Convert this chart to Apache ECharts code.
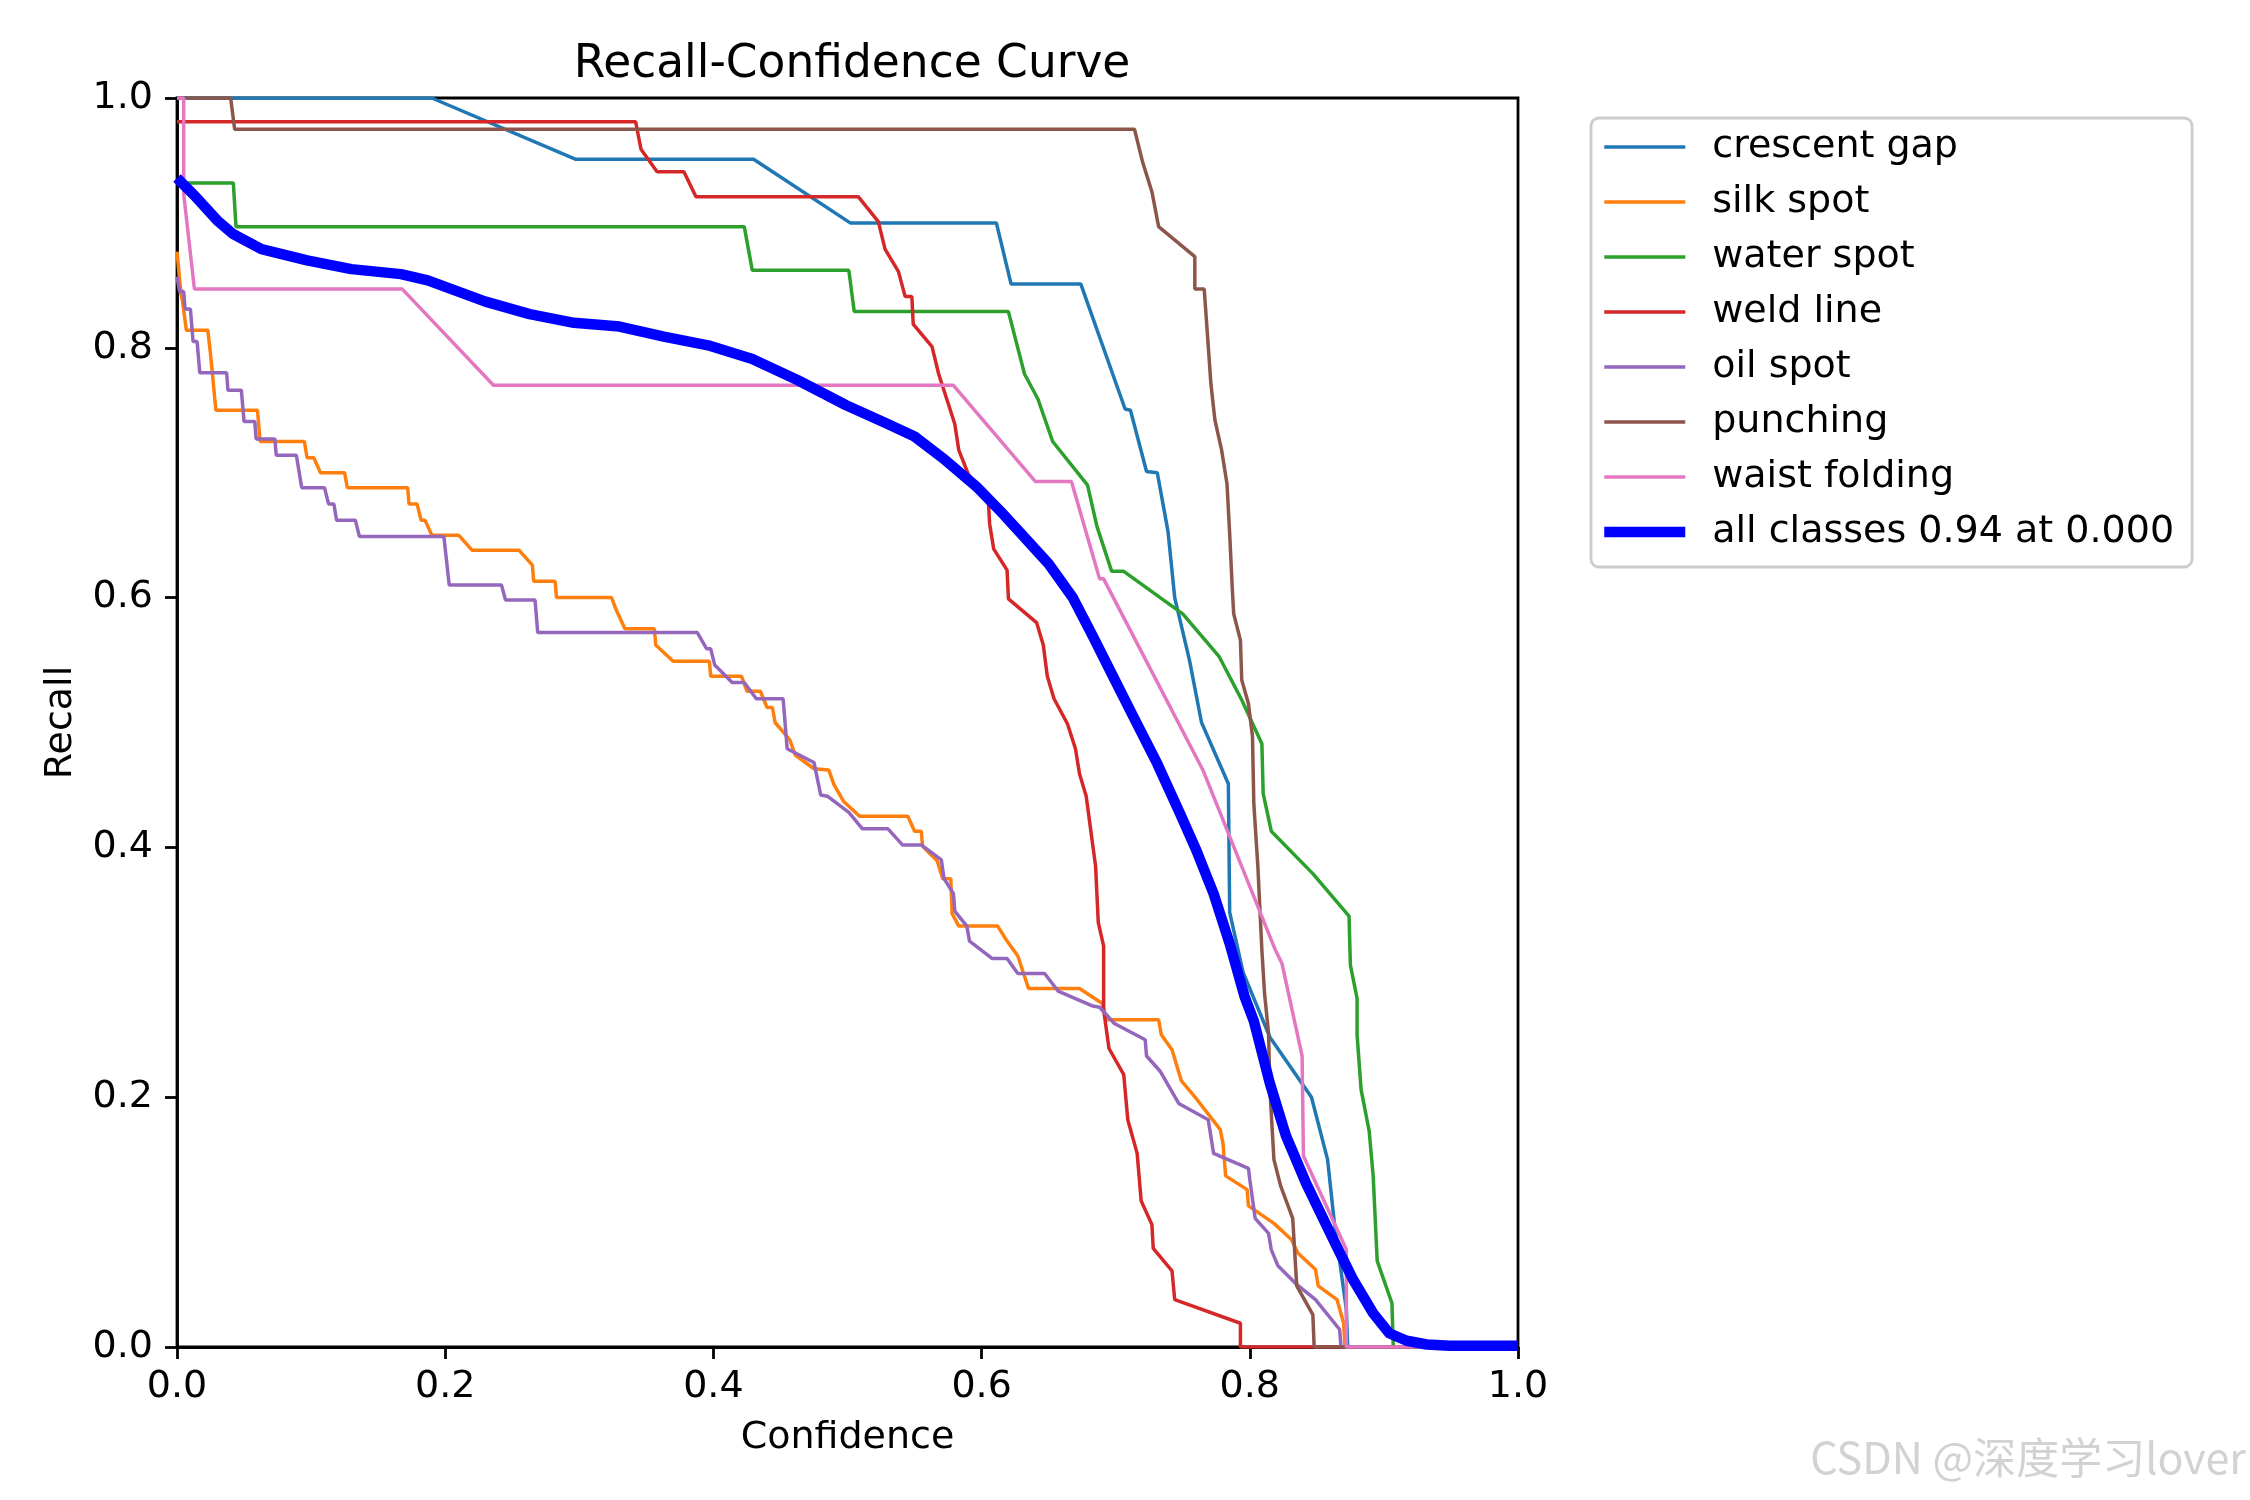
<!DOCTYPE html>
<html>
<head>
<meta charset="utf-8">
<script src="https://cdn.jsdelivr.net/npm/echarts@6/dist/echarts.min.js"></script>
<style>
  html, body { margin: 0; padding: 0; background: #fff; }
  #chart { width: 2250px; height: 1500px; }
</style>
</head>
<body>
<div id="chart"></div>
<script>
// class names and curve colours (matplotlib tab10)
var classNames = ['crescent gap', 'silk spot', 'water spot', 'weld line', 'oil spot', 'punching', 'waist folding'];
var classColors = ['#1f77b4', '#ff7f0e', '#2ca02c', '#d62728', '#9467bd', '#8c564b', '#e377c2'];
var allName = 'all classes 0.94 at 0.000';

// [confidence, recall]
var crescentGap = [[0,1.0],[0.190,1.0],[0.297,0.951],[0.430,0.951],[0.502,0.900],[0.611,0.900],[0.622,0.851],[0.674,0.851],[0.707,0.751],[0.711,0.750],[0.723,0.701],[0.731,0.700],[0.739,0.653],[0.744,0.600],[0.755,0.550],[0.764,0.500],[0.784,0.451],[0.785,0.348],[0.795,0.300],[0.815,0.248],[0.846,0.200],[0.858,0.150],[0.863,0.100],[0.872,0.030],[0.873,0],[1.0,0]];

var silkSpot = [[0,0.877],[0.003,0.843],[0.004,0.838],[0.007,0.814],[0.023,0.814],[0.025,0.795],[0.029,0.750],[0.060,0.750],[0.062,0.725],[0.095,0.725],[0.097,0.712],[0.102,0.712],[0.107,0.700],[0.125,0.700],[0.127,0.688],[0.172,0.688],[0.173,0.675],[0.179,0.675],[0.182,0.662],[0.185,0.662],[0.190,0.650],[0.210,0.650],[0.220,0.638],[0.255,0.638],[0.265,0.626],[0.266,0.613],[0.282,0.613],[0.283,0.600],[0.324,0.600],[0.328,0.589],[0.334,0.575],[0.356,0.575],[0.357,0.562],[0.370,0.549],[0.397,0.549],[0.398,0.537],[0.421,0.537],[0.425,0.525],[0.435,0.525],[0.440,0.512],[0.444,0.512],[0.446,0.500],[0.457,0.486],[0.461,0.474],[0.475,0.463],[0.486,0.462],[0.490,0.450],[0.497,0.437],[0.509,0.425],[0.545,0.425],[0.550,0.413],[0.555,0.413],[0.556,0.401],[0.567,0.389],[0.571,0.375],[0.577,0.375],[0.578,0.347],[0.583,0.337],[0.612,0.337],[0.619,0.325],[0.627,0.313],[0.635,0.287],[0.673,0.287],[0.690,0.275],[0.693,0.262],[0.732,0.262],[0.734,0.250],[0.742,0.238],[0.749,0.213],[0.760,0.199],[0.778,0.174],[0.780,0.163],[0.782,0.137],[0.798,0.126],[0.799,0.113],[0.818,0.099],[0.831,0.086],[0.836,0.075],[0.849,0.062],[0.851,0.049],[0.865,0.038],[0.870,0.019],[0.871,0],[1.0,0]];

var waterSpot = [[0,0.932],[0.042,0.932],[0.044,0.897],[0.423,0.897],[0.429,0.862],[0.501,0.862],[0.505,0.829],[0.620,0.829],[0.632,0.779],[0.642,0.759],[0.653,0.725],[0.679,0.690],[0.686,0.657],[0.697,0.621],[0.706,0.621],[0.750,0.587],[0.777,0.553],[0.794,0.518],[0.809,0.483],[0.810,0.443],[0.816,0.413],[0.847,0.379],[0.874,0.345],[0.875,0.306],[0.880,0.279],[0.880,0.250],[0.883,0.206],[0.889,0.173],[0.892,0.137],[0.895,0.069],[0.906,0.035],[0.907,0],[1.0,0]];

var weldLine = [[0,0.981],[0.342,0.981],[0.346,0.959],[0.358,0.941],[0.378,0.941],[0.387,0.921],[0.508,0.921],[0.523,0.901],[0.528,0.879],[0.538,0.861],[0.543,0.841],[0.548,0.841],[0.549,0.819],[0.563,0.801],[0.568,0.779],[0.580,0.739],[0.583,0.718],[0.590,0.699],[0.605,0.678],[0.606,0.659],[0.609,0.639],[0.619,0.622],[0.620,0.599],[0.641,0.580],[0.646,0.562],[0.649,0.537],[0.654,0.519],[0.664,0.499],[0.670,0.479],[0.673,0.459],[0.678,0.441],[0.681,0.417],[0.685,0.385],[0.687,0.340],[0.691,0.321],[0.691,0.270],[0.695,0.239],[0.706,0.218],[0.709,0.182],[0.716,0.155],[0.719,0.117],[0.727,0.098],[0.728,0.079],[0.742,0.061],[0.744,0.038],[0.793,0.019],[0.793,0],[1.0,0]];

var oilSpot = [[0,0.857],[0.002,0.845],[0.005,0.845],[0.006,0.831],[0.010,0.831],[0.012,0.805],[0.015,0.805],[0.017,0.780],[0.037,0.780],[0.038,0.766],[0.048,0.766],[0.050,0.741],[0.058,0.741],[0.059,0.727],[0.073,0.727],[0.074,0.714],[0.089,0.714],[0.093,0.688],[0.110,0.688],[0.113,0.675],[0.117,0.675],[0.119,0.662],[0.133,0.662],[0.136,0.649],[0.199,0.649],[0.203,0.610],[0.242,0.610],[0.245,0.598],[0.267,0.598],[0.269,0.572],[0.388,0.572],[0.395,0.559],[0.398,0.559],[0.401,0.546],[0.414,0.532],[0.423,0.532],[0.432,0.519],[0.452,0.519],[0.455,0.479],[0.475,0.468],[0.480,0.442],[0.485,0.441],[0.501,0.428],[0.511,0.415],[0.530,0.415],[0.541,0.402],[0.555,0.402],[0.570,0.390],[0.572,0.375],[0.579,0.363],[0.580,0.349],[0.589,0.337],[0.591,0.325],[0.608,0.311],[0.619,0.311],[0.627,0.299],[0.647,0.299],[0.657,0.285],[0.683,0.273],[0.688,0.272],[0.699,0.259],[0.722,0.246],[0.723,0.233],[0.733,0.221],[0.747,0.195],[0.769,0.182],[0.773,0.155],[0.799,0.143],[0.800,0.134],[0.804,0.103],[0.814,0.091],[0.816,0.078],[0.821,0.065],[0.834,0.051],[0.849,0.038],[0.867,0.014],[0.868,0],[1.0,0]];

var punching = [[0,1.0],[0.040,1.0],[0.043,0.975],[0.714,0.975],[0.720,0.949],[0.727,0.925],[0.732,0.897],[0.759,0.873],[0.759,0.847],[0.766,0.847],[0.768,0.817],[0.771,0.771],[0.774,0.742],[0.779,0.718],[0.783,0.691],[0.785,0.651],[0.787,0.606],[0.788,0.587],[0.793,0.566],[0.794,0.534],[0.799,0.515],[0.802,0.489],[0.803,0.435],[0.806,0.385],[0.809,0.318],[0.811,0.283],[0.814,0.251],[0.815,0.206],[0.818,0.150],[0.823,0.129],[0.832,0.103],[0.835,0.049],[0.847,0.026],[0.848,0],[1.0,0]];

var waistFolding = [[0,1.0],[0.005,1.0],[0.005,0.923],[0.013,0.847],[0.168,0.847],[0.236,0.770],[0.579,0.770],[0.640,0.693],[0.667,0.693],[0.688,0.615],[0.691,0.615],[0.765,0.462],[0.783,0.414],[0.819,0.318],[0.824,0.307],[0.839,0.233],[0.840,0.153],[0.872,0.078],[0.872,0],[1.0,0]];

var allClasses = [[0,0.936],[0.013,0.922],[0.030,0.902],[0.042,0.891],[0.063,0.879],[0.097,0.870],[0.130,0.863],[0.167,0.859],[0.187,0.854],[0.230,0.837],[0.263,0.827],[0.296,0.820],[0.330,0.817],[0.363,0.809],[0.396,0.802],[0.429,0.791],[0.463,0.774],[0.499,0.754],[0.530,0.739],[0.550,0.729],[0.573,0.710],[0.596,0.689],[0.616,0.667],[0.633,0.647],[0.650,0.627],[0.668,0.600],[0.683,0.569],[0.698,0.537],[0.713,0.505],[0.731,0.467],[0.748,0.427],[0.760,0.398],[0.773,0.363],[0.785,0.323],[0.796,0.281],[0.803,0.261],[0.815,0.211],[0.827,0.169],[0.842,0.131],[0.860,0.091],[0.877,0.054],[0.892,0.027],[0.904,0.011],[0.917,0.005],[0.932,0.002],[0.949,0.001],[1.0,0.001]];

var classData = [crescentGap, silkSpot, waterSpot, weldLine, oilSpot, punching, waistFolding];

var FONT = 'DejaVu Sans';
var THIN = 3.5, THICK = 10.5;
var chart = echarts.init(document.getElementById('chart'));

// one thin line per class, thick blue line for all classes on top
var series = classNames.map(function (name, i) {
  return {
    name: name,
    type: 'line',
    data: classData[i],
    symbol: 'none',
    clip: true,
    lineStyle: { color: classColors[i], width: THIN },
    itemStyle: { color: classColors[i] }
  };
});
series.push({
  name: allName,
  type: 'line',
  data: allClasses,
  symbol: 'none',
  clip: true,
  lineStyle: { color: '#0000ff', width: THICK, join: 'round', cap: 'butt' },
  itemStyle: { color: '#0000ff' }
});

// legend entries need their own line widths
var legendData = classNames.map(function (name, i) {
  return { name: name, lineStyle: { color: classColors[i], width: THIN } };
});
legendData.push({ name: allName, lineStyle: { color: '#0000ff', width: THICK } });

var option = {
  animation: false,
  backgroundColor: '#ffffff',
  title: {
    text: 'Recall-Confidence Curve',
    left: 847,
    textAlign: 'center',
    top: 37,
    textStyle: { fontFamily: FONT, fontSize: 45.5, fontWeight: 'normal', color: '#000' }
  },
  grid: {
    left: 177, right: 732, top: 98, bottom: 153,
    show: true, borderColor: '#000', borderWidth: 2.8, backgroundColor: 'transparent'
  },
  legend: {
    orient: 'vertical',
    left: 1591,
    top: 118,
    padding: [10, 18, 16, 8],
    itemGap: 17,
    itemWidth: 81,
    itemHeight: 14,
    borderColor: '#cccccc',
    borderWidth: 2.8,
    borderRadius: 8,
    backgroundColor: 'rgba(255,255,255,0.8)',
    itemStyle: { opacity: 0 },
    textStyle: { fontFamily: FONT, fontSize: 38, color: '#000', padding: [0, 0, 0, 22] },
    data: legendData
  },
  xAxis: {
    type: 'value',
    min: 0, max: 1, interval: 0.2,
    name: 'Confidence',
    nameLocation: 'middle',
    nameGap: 72,
    nameTextStyle: { fontFamily: FONT, fontSize: 38, color: '#000' },
    axisLine: { show: true, lineStyle: { color: '#000', width: 2.8 } },
    axisTick: { show: true, inside: false, length: 12, lineStyle: { color: '#000', width: 2.8 } },
    axisLabel: {
      fontFamily: FONT, fontSize: 38, color: '#000', margin: 21,
      formatter: function (v) { return v.toFixed(1); }
    },
    splitLine: { show: false }
  },
  yAxis: {
    type: 'value',
    min: 0, max: 1, interval: 0.2,
    name: 'Recall',
    nameLocation: 'middle',
    nameRotate: 90,
    nameGap: 97,
    nameTextStyle: { fontFamily: FONT, fontSize: 38, color: '#000' },
    axisLine: { show: true, lineStyle: { color: '#000', width: 2.8 } },
    axisTick: { show: true, inside: false, length: 12, lineStyle: { color: '#000', width: 2.8 } },
    axisLabel: {
      fontFamily: FONT, fontSize: 38, color: '#000', margin: 24,
      formatter: function (v) { return v.toFixed(1); }
    },
    splitLine: { show: false }
  },
  graphic: [{
    type: 'text',
    right: 4,
    top: 1436,
    style: {
      text: 'CSDN @深度学习lover',
      fontFamily: 'Noto Sans CJK SC',
      fontSize: 43,
      fill: '#d2d2d2'
    }
  }],
  series: series
};

chart.setOption(option);
</script>
</body>
</html>
